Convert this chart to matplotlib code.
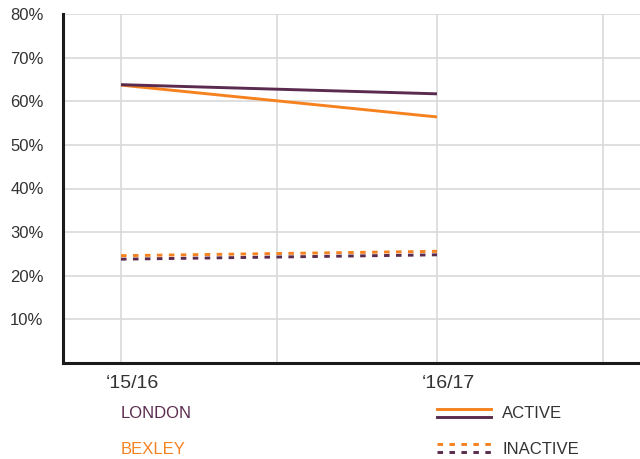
import matplotlib
matplotlib.use("Agg")
import matplotlib.pyplot as plt
from matplotlib.lines import Line2D
import matplotlib.transforms as mtransforms

plt.rcParams['font.family'] = ['Liberation Sans', 'DejaVu Sans']

# Data
periods = ["\u201815/16", "\u201816/17"]
london_active = [63.8, 61.7]
bexley_active = [63.7, 56.4]
london_inactive = [23.8, 24.8]
bexley_inactive = [24.6, 25.6]
yticks = [10, 20, 30, 40, 50, 60, 70, 80]

ORANGE = "#F5821F"
PURPLE = "#5A2B4E"
TEXT = "#333333"

W, H = 640, 459
fig = plt.figure(figsize=(W / 100, H / 100), dpi=100)
ax = fig.add_axes([63 / W, 1 - 363 / H, 1 - 63 / W, (363 - 14) / H])

x = list(range(len(periods)))
lw = 2.1
dash = (0, (1.9, 2.2))
ax.plot(x, bexley_active, color=ORANGE, lw=lw, solid_capstyle='butt', zorder=3)
ax.plot(x, london_active, color=PURPLE, lw=lw, solid_capstyle='butt', zorder=4)
ax.plot(x, bexley_inactive, color=ORANGE, lw=lw, linestyle=dash, zorder=3)
ax.plot(x, london_inactive, color=PURPLE, lw=lw, linestyle=dash, zorder=4)

ax.set_xlim(-58 / 316, (640 - 121) / 316)
ax.set_ylim(0, 80)

ax.set_yticks(yticks)
ax.set_yticklabels([f"{v}%" for v in yticks], fontsize=12, color=TEXT)
ax.set_xticks(x)
ax.set_xticklabels(periods, fontsize=14, color=TEXT)
ax.set_xticks([0.495, 1.525], minor=True)
ax.tick_params(axis='both', which='both', length=0)
ax.tick_params(axis='y', pad=14)
ax.tick_params(axis='x', pad=9)
offset = mtransforms.ScaledTranslation(11 / 100, 0, fig.dpi_scale_trans)
for lab in ax.get_xticklabels():
    lab.set_transform(lab.get_transform() + offset)

ax.grid(True, which='both', color='#d9d9d9', lw=1.2, zorder=0)
ax.set_axisbelow(True)
for s in ['top', 'right']:
    ax.spines[s].set_visible(False)
for s in ['left', 'bottom']:
    ax.spines[s].set_color('#1a1a1a')
    ax.spines[s].set_linewidth(2.2)

# Legend (manual layout)
def fx(px):
    return px / W

def fy(py):
    return 1 - py / H

fig.text(fx(121), fy(413), "LONDON", color=PURPLE, fontsize=12, va='center', ha='left')
fig.text(fx(121), fy(449), "BEXLEY", color=ORANGE, fontsize=12, va='center', ha='left')
fig.add_artist(Line2D([fx(437), fx(491)], [fy(409), fy(409)], color=ORANGE, lw=lw))
fig.add_artist(Line2D([fx(437), fx(491)], [fy(417), fy(417)], color=PURPLE, lw=lw))
fig.add_artist(Line2D([fx(437), fx(491)], [fy(444), fy(444)], color=ORANGE, lw=lw,
                      linestyle=dash))
fig.add_artist(Line2D([fx(437), fx(491)], [fy(452), fy(452)], color=PURPLE, lw=lw,
                      linestyle=dash))
fig.text(fx(502), fy(413), "ACTIVE", color=TEXT, fontsize=12, va='center', ha='left')
fig.text(fx(502), fy(449), "INACTIVE", color=TEXT, fontsize=12, va='center', ha='left')

fig.savefig("out.png", dpi=100)
